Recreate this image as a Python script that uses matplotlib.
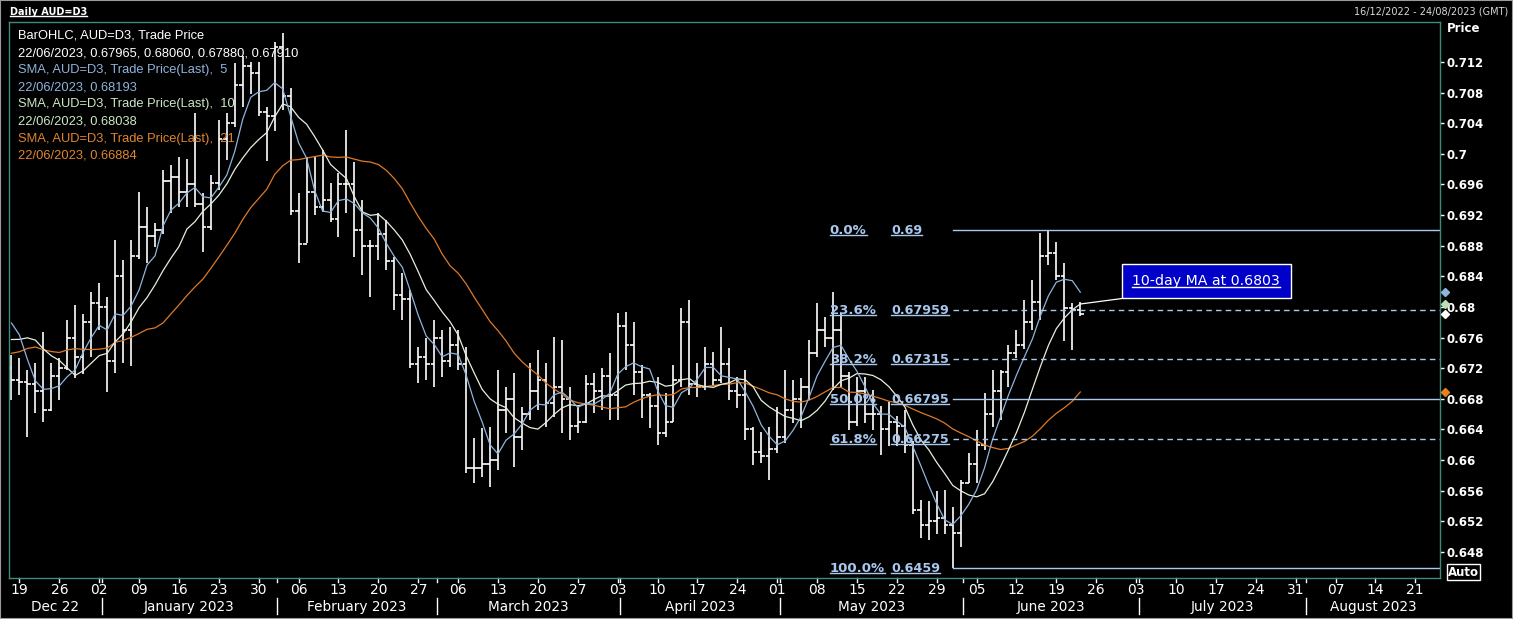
import numpy as np
import pandas as pd
import matplotlib
matplotlib.use('Agg')
import matplotlib.pyplot as plt
from matplotlib.patches import Rectangle
from matplotlib.lines import Line2D

# closes 18/11/2022 - 15/12/2022, only used to seed the moving averages
pre_closes = [0.6660, 0.6610, 0.6650, 0.6740, 0.6760, 0.6745, 0.6690, 0.6700, 0.6800, 0.6810,
              0.6790, 0.6700, 0.6680, 0.6720, 0.6780, 0.6800, 0.6780, 0.6860, 0.6830, 0.6720]

# daily OHLC 16/12/2022 - 22/06/2023
opens = [0.6720, 0.6705, 0.6702, 0.6700, 0.6690, 0.6665, 0.6710, 0.6720, 0.6760, 0.6735,
         0.6780, 0.6805, 0.6800, 0.6730, 0.6840, 0.6770, 0.6866, 0.6905, 0.6893, 0.6900,
         0.6965, 0.6970, 0.6950, 0.6960, 0.6935, 0.6905, 0.6962, 0.7020, 0.7040, 0.7090,
         0.7115, 0.7105, 0.7055, 0.7050, 0.7140, 0.7075, 0.6925, 0.6882, 0.6950, 0.6930,
         0.6940, 0.6915, 0.6960, 0.6960, 0.6900, 0.6880, 0.6880, 0.6895, 0.6860, 0.6815,
         0.6810, 0.6725, 0.6735, 0.6725, 0.6760, 0.6730, 0.6750, 0.6725, 0.6590, 0.6590,
         0.6595, 0.6600, 0.6665, 0.6680, 0.6630, 0.6660, 0.6690, 0.6705, 0.6675, 0.6695,
         0.6680, 0.6645, 0.6650, 0.6700, 0.6690, 0.6710, 0.6685, 0.6775, 0.6750, 0.6715,
         0.6685, 0.6670, 0.6635, 0.6650, 0.6705, 0.6780, 0.6700, 0.6695, 0.6725, 0.6705,
         0.6725, 0.6690, 0.6685, 0.6640, 0.6610, 0.6605, 0.6615, 0.6630, 0.6665, 0.6680,
         0.6695, 0.6740, 0.6770, 0.6760, 0.6770, 0.6710, 0.6650, 0.6690, 0.6660, 0.6660,
         0.6640, 0.6650, 0.6645, 0.6620, 0.6535, 0.6515, 0.6520, 0.6525, 0.6515, 0.6505,
         0.6570, 0.6595, 0.6620, 0.6660, 0.6690, 0.6715, 0.6740, 0.6750, 0.6780, 0.6806,
         0.6866, 0.6870, 0.6840, 0.6799, 0.67965]
highs = [0.6737, 0.6733, 0.6718, 0.6727, 0.6767, 0.6727, 0.6733, 0.6783, 0.6803, 0.6791,
         0.6820, 0.6831, 0.6813, 0.6888, 0.6861, 0.6888, 0.6950, 0.6931, 0.6910, 0.6979,
         0.6985, 0.6996, 0.6993, 0.7053, 0.6949, 0.6972, 0.7044, 0.7053, 0.7119, 0.7128,
         0.7120, 0.7120, 0.7061, 0.7146, 0.7158, 0.7086, 0.6949, 0.6996, 0.6996, 0.7005,
         0.6962, 0.6975, 0.7031, 0.6989, 0.6940, 0.6888, 0.6923, 0.6914, 0.6865, 0.6844,
         0.6822, 0.6748, 0.6759, 0.6783, 0.6770, 0.6774, 0.6770, 0.6748, 0.6629, 0.6642,
         0.6643, 0.6718, 0.6696, 0.6714, 0.6669, 0.6727, 0.6744, 0.6727, 0.6761, 0.6757,
         0.6696, 0.6669, 0.6711, 0.6714, 0.6720, 0.6740, 0.6792, 0.6793, 0.6780, 0.6724,
         0.6688, 0.6709, 0.6688, 0.6724, 0.6799, 0.6809, 0.6727, 0.6748, 0.6741, 0.6774,
         0.6746, 0.6709, 0.6718, 0.6643, 0.6637, 0.6643, 0.6669, 0.6718, 0.6705, 0.6707,
         0.6757, 0.6805, 0.6787, 0.6820, 0.6792, 0.6715, 0.6709, 0.6709, 0.6692, 0.6670,
         0.6676, 0.6657, 0.6665, 0.6625, 0.6548, 0.6546, 0.6559, 0.6561, 0.6539, 0.6574,
         0.6609, 0.6639, 0.6687, 0.6718, 0.6718, 0.6750, 0.6770, 0.6809, 0.6835, 0.6896,
         0.6900, 0.6885, 0.6857, 0.6805, 0.6806]
lows = [0.6679, 0.6685, 0.6630, 0.6662, 0.6650, 0.6664, 0.6679, 0.6718, 0.6707, 0.6713,
        0.6735, 0.6770, 0.6689, 0.6714, 0.6727, 0.6723, 0.6862, 0.6858, 0.6878, 0.6895,
        0.6923, 0.6931, 0.6931, 0.6931, 0.6872, 0.6900, 0.6953, 0.6992, 0.7035, 0.7061,
        0.7078, 0.7050, 0.6990, 0.7030, 0.7057, 0.6920, 0.6857, 0.6884, 0.6920, 0.6924,
        0.6911, 0.6892, 0.6923, 0.6865, 0.6842, 0.6813, 0.6861, 0.6848, 0.6796, 0.6783,
        0.6720, 0.6701, 0.6705, 0.6695, 0.6709, 0.6722, 0.6718, 0.6583, 0.6570, 0.6578,
        0.6565, 0.6587, 0.6636, 0.6591, 0.6613, 0.6652, 0.6666, 0.6643, 0.6656, 0.6635,
        0.6626, 0.6635, 0.6648, 0.6661, 0.6666, 0.6652, 0.6652, 0.6718, 0.6685, 0.6655,
        0.6642, 0.6620, 0.6630, 0.6650, 0.6696, 0.6685, 0.6682, 0.6692, 0.6698, 0.6701,
        0.6679, 0.6668, 0.6626, 0.6594, 0.6596, 0.6574, 0.6609, 0.6622, 0.6648, 0.6642,
        0.6679, 0.6735, 0.6748, 0.6692, 0.6696, 0.6639, 0.6645, 0.6648, 0.6639, 0.6607,
        0.6618, 0.6618, 0.6609, 0.6530, 0.6498, 0.6496, 0.6504, 0.6504, 0.6459, 0.6487,
        0.6570, 0.6570, 0.6613, 0.6643, 0.6652, 0.6696, 0.6733, 0.6745, 0.6770, 0.6783,
        0.6855, 0.6835, 0.6755, 0.6744, 0.6788]
closes = [0.6705, 0.6702, 0.6700, 0.6690, 0.6665, 0.6710, 0.6720, 0.6760, 0.6735, 0.6780,
          0.6805, 0.6800, 0.6730, 0.6840, 0.6770, 0.6866, 0.6905, 0.6893, 0.6900, 0.6965,
          0.6970, 0.6950, 0.6960, 0.6935, 0.6905, 0.6962, 0.7020, 0.7040, 0.7090, 0.7115,
          0.7105, 0.7055, 0.7050, 0.7140, 0.7075, 0.6925, 0.6882, 0.6950, 0.6930, 0.6940,
          0.6915, 0.6960, 0.6960, 0.6900, 0.6880, 0.6880, 0.6895, 0.6860, 0.6815, 0.6810,
          0.6725, 0.6735, 0.6725, 0.6760, 0.6730, 0.6750, 0.6725, 0.6590, 0.6590, 0.6595,
          0.6600, 0.6665, 0.6680, 0.6630, 0.6660, 0.6690, 0.6705, 0.6675, 0.6695, 0.6680,
          0.6645, 0.6650, 0.6700, 0.6690, 0.6710, 0.6685, 0.6775, 0.6750, 0.6715, 0.6685,
          0.6670, 0.6635, 0.6650, 0.6705, 0.6780, 0.6700, 0.6695, 0.6725, 0.6705, 0.6725,
          0.6690, 0.6685, 0.6640, 0.6610, 0.6605, 0.6615, 0.6630, 0.6665, 0.6680, 0.6695,
          0.6740, 0.6770, 0.6760, 0.6770, 0.6710, 0.6650, 0.6690, 0.6660, 0.6660, 0.6640,
          0.6650, 0.6645, 0.6620, 0.6535, 0.6515, 0.6520, 0.6525, 0.6515, 0.6505, 0.6570,
          0.6595, 0.6620, 0.6660, 0.6690, 0.6715, 0.6740, 0.6750, 0.6780, 0.6806, 0.6866,
          0.6870, 0.6840, 0.6799, 0.67965, 0.6791]

fib_pcts = ['0.0%', '23.6%', '38.2%', '50.0%', '61.8%', '100.0%']
fib_vals = [0.69, 0.67959, 0.67315, 0.66795, 0.66275, 0.6459]
fib_labels = ['0.69', '0.67959', '0.67315', '0.66795', '0.66275', '0.6459']
fib_dashed = [False, True, True, False, True, False]

legend_lines = ['BarOHLC, AUD=D3, Trade Price',
                '22/06/2023, 0.67965, 0.68060, 0.67880, 0.67910',
                'SMA, AUD=D3, Trade Price(Last),  5',
                '22/06/2023, 0.68193',
                'SMA, AUD=D3, Trade Price(Last),  10',
                '22/06/2023, 0.68038',
                'SMA, AUD=D3, Trade Price(Last),  21',
                '22/06/2023, 0.66884']
month_names = ['Dec 22', 'January 2023', 'February 2023', 'March 2023', 'April 2023',
               'May 2023', 'June 2023', 'July 2023', 'August 2023']

C_SMA5 = '#8fb4dc'
C_SMA10 = '#e4f0dc'
C_SMA21 = '#dd7a28'
C_FIB = '#a8c8ee'
FRAME = '#3f8a7c'
NARROW = ['Liberation Sans Narrow', 'DejaVu Sans Condensed', 'DejaVu Sans']

W, H = 1513, 619


def fx(px):
    return px / W


def fy(py):
    return 1 - py / H


fig = plt.figure(figsize=(W / 100, H / 100), dpi=100, facecolor='black')
ax = fig.add_axes([fx(9), fy(578), fx(1440) - fx(9), fy(22) - fy(578)])
ax.set_facecolor('black')
for s in ax.spines.values():
    s.set_color(FRAME)
    s.set_linewidth(1)

days = pd.bdate_range('2022-12-16', '2023-08-24')
n = len(closes)
x = np.arange(n)
xmin, xmax = -0.31, 179.1
ymin, ymax = 0.64460, 0.71722

# OHLC bars
ax.vlines(x, lows, highs, color='white', lw=1.2)
ax.hlines(opens, x - 0.45, x, color='white', lw=1.2)
ax.hlines(closes, x, x + 0.45, color='white', lw=1.2)

# moving averages
allc = np.array(pre_closes + closes)


def sma(k):
    return np.convolve(allc, np.ones(k) / k, mode='valid')[-n:]


sma5, sma10, sma21 = sma(5), sma(10), sma(21)
ax.plot(x, sma21, color=C_SMA21, lw=0.9)
ax.plot(x, sma10, color=C_SMA10, lw=0.9)
ax.plot(x, sma5, color=C_SMA5, lw=0.9)

# fibonacci retracement from the 31/05 low
fib_start = 118
for v, dashed in zip(fib_vals, fib_dashed):
    ln, = ax.plot([fib_start, xmax], [v, v], color=C_FIB, lw=1)
    if dashed:
        ln.set_dashes((4, 3))

under = []
for p, lab, v in zip(fib_pcts, fib_labels, fib_vals):
    under.append(ax.text(102.6, v, p, color=C_FIB, fontsize=9.5, fontweight='bold',
                         va='center', ha='left'))
    under.append(ax.text(110.3, v, lab, color=C_FIB, fontsize=9.2, fontweight='bold',
                         va='center', ha='left'))

# callout for the 10-day MA
ax.plot([n - 1, 139.2], [sma10[-1], 0.6811], color='white', lw=0.9)
fig.patches.append(Rectangle((fx(1122), fy(298)), fx(169), 34 / H, transform=fig.transFigure,
                             facecolor='#0000c8', edgecolor='white', lw=1))
under.append(fig.text(fx(1206), fy(281), '10-day MA at 0.6803', color='white', fontsize=10.2,
                      ha='center', va='center'))

# last-value diamonds on the price scale
for v, c in [(sma5[-1], C_SMA5), (sma10[-1], '#b8e0b0'), (closes[-1], 'white'), (sma21[-1], '#e8801c')]:
    ax.plot(179.75, v, marker='D', ms=3.8, color=c, clip_on=False, zorder=5)

ax.set_xlim(xmin, xmax)
ax.set_ylim(ymin, ymax)
ax.set_xticks([])
yt = np.arange(0.648, 0.7121, 0.004)
ax.yaxis.tick_right()
ax.set_yticks(yt)
ax.set_yticklabels([f'{v:.3f}'.rstrip('0').rstrip('.') for v in yt], fontweight='bold')
ax.tick_params(axis='y', colors='white', length=3, width=1, pad=2, labelsize=8.5)
fig.text(fx(1447), fy(29), 'Price', color='white', fontsize=8.5, fontweight='bold', va='center')

# date axis: week numbers and month names
trans = ax.get_xaxis_transform()
for i, d in enumerate(days):
    if d.weekday() == 0:
        ax.text(i, -0.022, f'{d.day:02d}', transform=trans, color='white', fontsize=10,
                family=NARROW, ha='center', va='center')
        ax.plot([i, i], [0, -0.008], transform=trans, color='white', lw=1, clip_on=False)

month_first = [i for i in range(1, len(days)) if days[i].month != days[i - 1].month]
bounds = [xmin] + [i + 0.3 for i in month_first] + [xmax]
for k, name in enumerate(month_names):
    ax.text((bounds[k] + bounds[k + 1]) / 2, -0.052, name, transform=trans, color='white',
            fontsize=9.8, family=NARROW, ha='center', va='center')
for b in bounds[1:-1]:
    ax.plot([b, b], [-0.036, -0.065], transform=trans, color='white', lw=1, clip_on=False)
    ax.plot([b, b], [0, -0.008], transform=trans, color='white', lw=1, clip_on=False)

# "Auto" scale box
fig.patches.append(Rectangle((fx(1447), fy(580)), fx(33), 16 / H, transform=fig.transFigure,
                             facecolor='black', edgecolor='white', lw=1))
fig.text(fx(1463.5), fy(572), 'Auto', color='white', fontsize=8.5, fontweight='bold',
         ha='center', va='center')

# indicator legend
leg_colors = ['white', 'white', C_SMA5, C_SMA5, '#cde8c4', '#cde8c4', '#e0862e', '#e0862e']
for k, (t, c) in enumerate(zip(legend_lines, leg_colors)):
    fig.text(fx(18), fy(36 + 17.1 * k), t, color=c, fontsize=9.3,
             family=['Liberation Sans', 'DejaVu Sans'], va='center', ha='left')

# header
under.append(fig.text(fx(10), fy(12), 'Daily AUD=D3', color='white', fontsize=7,
                      fontweight='bold', va='center', ha='left'))
fig.text(fx(1508), fy(12), '16/12/2022 - 24/08/2023 (GMT)', color='#d8d8d8', fontsize=7,
         va='center', ha='right')
fig.patches.append(Rectangle((0, 0), 1, 1, transform=fig.transFigure, fill=False,
                             edgecolor='#9a9a9a', lw=1.5))

# underline the hyperlink-style texts
fig.canvas.draw()
for t in under:
    bb = t.get_window_extent()
    yy = bb.y0 + 1.5
    fig.add_artist(Line2D([bb.x0 / W, bb.x1 / W], [yy / H, yy / H], transform=fig.transFigure,
                          color=t.get_color(), lw=1))

fig.savefig('out.png', dpi=100, facecolor='black')
